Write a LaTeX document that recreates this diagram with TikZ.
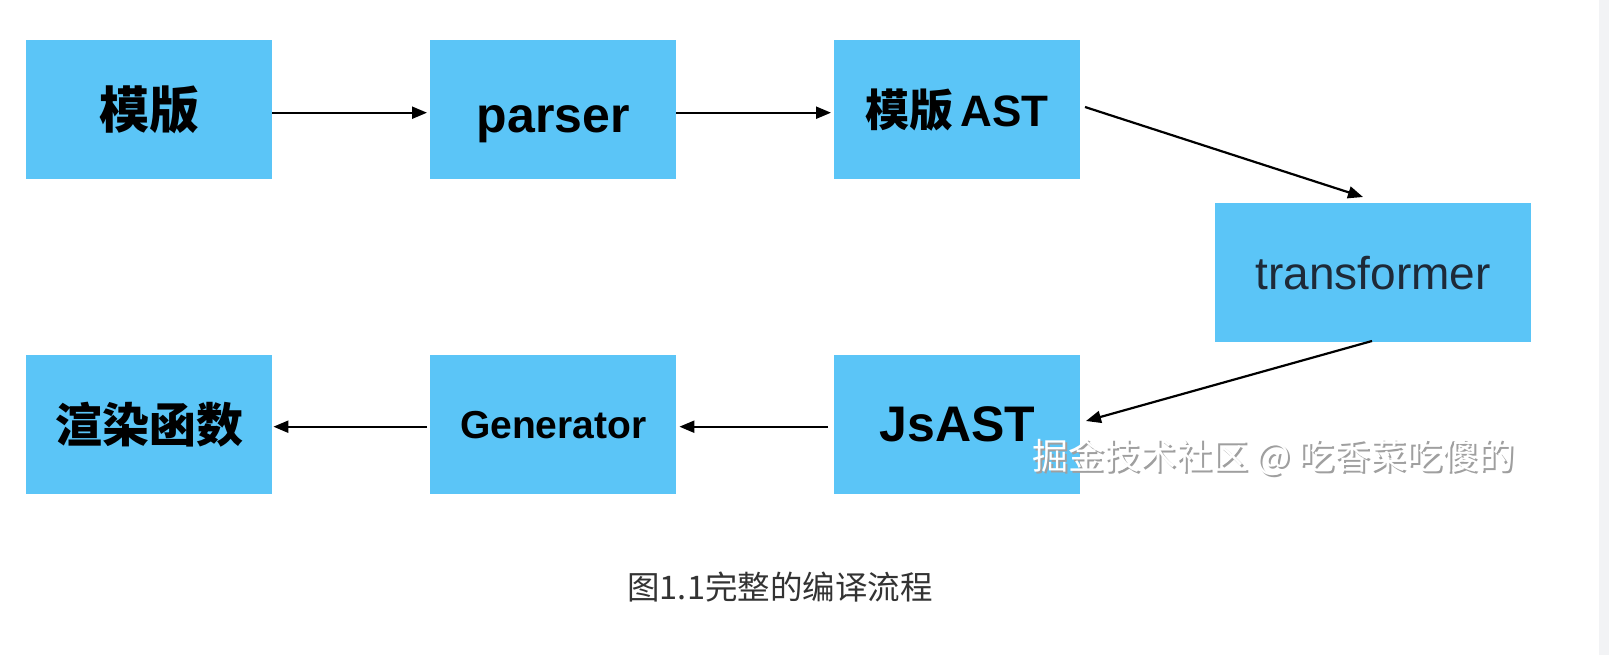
\documentclass[tikz,border=0pt]{standalone}
\usepackage{fontspec}
\setmainfont{Liberation Sans}
\newfontfamily\cjk{Noto Sans CJK SC}
\usetikzlibrary{arrows.meta}
\definecolor{boxblue}{HTML}{5BC5F7}
\definecolor{captext}{HTML}{333333}
\definecolor{navytext}{HTML}{1E2A38}
\definecolor{stripgrey}{HTML}{F2F3F5}
\tikzset{
  stagebox/.style={fill=boxblue, draw=none, minimum width=246pt, minimum height=139pt, inner sep=0pt, anchor=north west, text=black},
  flowarrow/.style={draw=black, line width=2.2pt, -{Triangle[length=15pt,width=12pt]}},
}
\begin{document}
\begin{tikzpicture}[x=1pt,y=-1pt]
\useasboundingbox (0,0) rectangle (1609,655);
\fill[white] (0,0) rectangle (1609,655);
\fill[stripgrey] (1599,0) rectangle (1609,655);
% top row
\node[stagebox] (tpl) at (26,40) {\fontsize{50}{60}\selectfont\cjk\bfseries 模版};
\node[stagebox, text depth=0pt, text height=45pt] (parser) at (430,40) {\fontsize{50}{60}\selectfont\bfseries parser};
\node[stagebox] (tplast) at (834,40) {\fontsize{44}{54}\selectfont{\cjk\bfseries 模版}\,\bfseries AST};
\node[stagebox, minimum width=316pt] (trans) at (1215,203) {\fontsize{46}{56}\selectfont\color{navytext}transformer};
% bottom row
\node[stagebox] (render) at (26,355) {\fontsize{47}{57}\selectfont\cjk\bfseries 渲染函数};
\node[stagebox] (gen) at (430,355) {\fontsize{39}{48}\selectfont\bfseries Generator};
\node[stagebox] (jsast) at (834,355) {\fontsize{50}{60}\selectfont\bfseries JsAST};
% arrows
\draw[flowarrow] ([yshift=-3pt]tpl.east) -- ([xshift=-3pt,yshift=-3pt]parser.west);
\draw[flowarrow] ([yshift=-3pt]parser.east) -- ([xshift=-3pt,yshift=-3pt]tplast.west);
\coordinate (a1s) at (1085,107);
\coordinate (a1e) at (1363,197);
\draw[flowarrow] (a1s) -- (a1e);
\coordinate (a2s) at (1372,341);
\coordinate (a2e) at (1086,421);
\draw[flowarrow] (a2s) -- (a2e);
\draw[flowarrow] ([xshift=-6pt,yshift=-2pt]jsast.west) -- ([xshift=3pt,yshift=-2pt]gen.east);
\draw[flowarrow] ([xshift=-3pt,yshift=-2pt]gen.west) -- ([xshift=1pt,yshift=-2pt]render.east);
% watermark
\node[text=gray!75, anchor=west] (wmshadow) at (1030.8,459.3) {\fontsize{36}{44}\selectfont\cjk 掘金技术社区 @ 吃香菜吃傻的};
\node[text=white, anchor=west] (wm) at (1029,457.5) {\fontsize{36}{44}\selectfont\cjk 掘金技术社区 @ 吃香菜吃傻的};
% caption
\node[text=captext] (cap) at (780,587) {\fontsize{32.5}{40}\selectfont\cjk 图1.1完整的编译流程};
\end{tikzpicture}
\end{document}
